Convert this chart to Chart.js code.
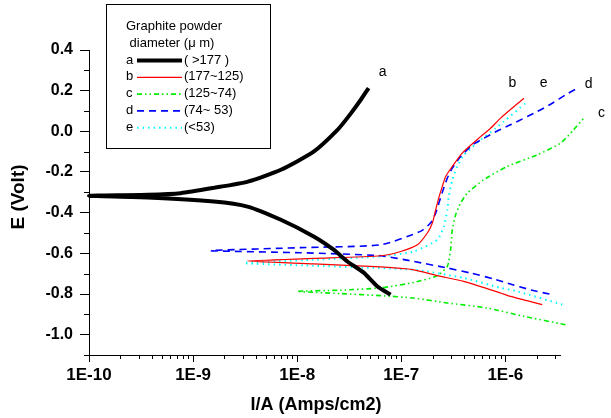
<!DOCTYPE html>
<html>
<head>
<meta charset="utf-8">
<script src="https://cdn.jsdelivr.net/npm/chart.js@4.4.1/dist/chart.umd.min.js"></script>
<style>
html, body { margin: 0; padding: 0; background: #fff; }
#wrap { width: 611px; height: 418px; position: relative; }
</style>
</head>
<body>
<div id="wrap"><canvas id="c"></canvas></div>
<script>
// Tafel curves, current density (A/cm2) vs potential (V)
// each curve: cathodic end -> corrosion potential -> anodic end
const aCurrent = [7.9e-8, 5.9e-8, 4.36e-8, 3.04e-8, 2.24e-8, 1.44e-8, 6.97e-9, 3.33e-9, 1.58e-9, 3.66e-10, 1e-10,
    3.66e-10, 7.6e-10, 1.58e-9, 3.36e-9, 6.97e-9, 1.44e-8, 2.44e-8, 3.2e-8, 4.07e-8, 4.86e-8]
const aPotential = [-0.803, -0.763, -0.695, -0.640, -0.582, -0.517, -0.435, -0.370, -0.345, -0.325, -0.317,
    -0.312, -0.304, -0.278, -0.247, -0.189, -0.100, 0.007, 0.081, 0.154, 0.213]

const bCurrent = [2.26e-6, 1.12e-6, 9.0e-7, 3.97e-7, 2.22e-7, 1.32e-7, 6.34e-8, 1.44e-8, 3.33e-9,
    1.44e-8, 6.34e-8, 9.86e-8, 1.43e-7, 1.78e-7, 1.99e-7, 2.14e-7, 2.30e-7, 2.48e-7, 2.67e-7, 3.09e-7,
    3.85e-7, 5.78e-7, 7.21e-7, 9.0e-7, 1.51e-6]
const bPotential = [-0.852, -0.812, -0.795, -0.738, -0.710, -0.681, -0.667, -0.652, -0.638,
    -0.625, -0.612, -0.591, -0.558, -0.500, -0.451, -0.386, -0.325, -0.271, -0.222, -0.173,
    -0.107, -0.026, 0.015, 0.065, 0.163]

const cCurrent = [3.78e-6, 1.51e-6, 6.7e-7, 2.77e-7, 1.32e-7, 6.34e-8, 2.62e-8, 1.0e-8,
    2.62e-8, 6.34e-8, 1.32e-7, 2.22e-7, 2.77e-7, 2.98e-7, 3.09e-7, 3.33e-7, 3.72e-7, 4.31e-7,
    6.18e-7, 1.04e-6, 2.02e-6, 3.39e-6, 4.52e-6, 5.66e-6]
const cPotential = [-0.951, -0.910, -0.869, -0.844, -0.820, -0.808, -0.798, -0.787,
    -0.781, -0.770, -0.743, -0.710, -0.664, -0.582, -0.484, -0.410, -0.353, -0.304,
    -0.239, -0.173, -0.116, -0.058, 0.007, 0.065]

const dCurrent = [2.65e-6, 1.81e-6, 1.04e-6, 7.76e-7, 4.63e-7, 2.77e-7, 1.32e-7, 6.34e-8, 1.08e-8, 1.48e-9,
    1.08e-8, 6.34e-8, 1.53e-7, 1.91e-7, 2.14e-7, 2.30e-7, 2.48e-7, 2.77e-7, 3.09e-7, 3.72e-7,
    4.81e-7, 6.22e-7, 8.36e-7, 1.12e-6, 2.02e-6, 2.82e-6, 3.78e-6, 4.72e-6]
const dPotential = [-0.800, -0.782, -0.746, -0.726, -0.697, -0.672, -0.640, -0.612, -0.597, -0.587,
    -0.572, -0.558, -0.492, -0.451, -0.402, -0.353, -0.300, -0.230, -0.181, -0.124,
    -0.067, -0.034, 0.002, 0.032, 0.097, 0.138, 0.179, 0.207]

const eCurrent = [3.52e-6, 1.30e-6, 9.0e-7, 3.97e-7, 1.32e-7, 1.44e-8, 3.09e-9,
    1.44e-8, 6.34e-8, 1.32e-7, 2.22e-7, 2.57e-7, 2.77e-7, 2.87e-7, 3.09e-7, 3.45e-7,
    4.0e-7, 5.78e-7, 8.05e-7, 9.68e-7, 1.56e-6]
const ePotential = [-0.852, -0.787, -0.770, -0.721, -0.681, -0.661, -0.648,
    -0.631, -0.615, -0.591, -0.533, -0.468, -0.386, -0.316, -0.239, -0.173,
    -0.116, -0.042, 0.015, 0.048, 0.138]

const xMajorTicks = [1e-10, 1e-9, 1e-8, 1e-7, 1e-6]
const xMinorTicks = [2e-10, 3e-10, 4e-10, 5e-10, 6e-10, 7e-10, 8e-10, 9e-10,
    2e-9, 3e-9, 4e-9, 5e-9, 6e-9, 7e-9, 8e-9, 9e-9,
    2e-8, 3e-8, 4e-8, 5e-8, 6e-8, 7e-8, 8e-8, 9e-8,
    2e-7, 3e-7, 4e-7, 5e-7, 6e-7, 7e-7, 8e-7, 9e-7,
    2e-6, 3e-6]
const yMajorTicks = [-1.0, -0.8, -0.6, -0.4, -0.2, 0.0, 0.2, 0.4]
const yMinorTicks = [-1.1, -0.9, -0.7, -0.5, -0.3, -0.1, 0.1, 0.3]

const curveNames = ['a', 'b', 'c', 'd', 'e']
const curveNameX = [6.64e-8, 1.17e-6, 8.4e-6, 6.3e-6, 2.33e-6]
const curveNameY = [0.292, 0.238, 0.091, 0.233, 0.238]

const legendTitle = ['Graphite powder', ' diameter (\u03bc m)']
const legendRanges = ['( >177 )', '(177~125)', '(125~74)', '(74~ 53)', '(<53)']

const xTitle = 'I/A (Amps/cm2)'
const yTitle = 'E (Volt)'

const styles = [
    { color: '#000000', width: 4, dash: [] },
    { color: '#ff0000', width: 1.2, dash: [] },
    { color: '#00ee00', width: 1.6, dash: [5, 3, 1.5, 3, 1.5, 3] },
    { color: '#0000ff', width: 1.6, dash: [7, 5] },
    { color: '#00ffff', width: 2, dash: [1.5, 4] }
]

const currents = [aCurrent, bCurrent, cCurrent, dCurrent, eCurrent]
const potentials = [aPotential, bPotential, cPotential, dPotential, ePotential]

const datasets = currents.map((cur, k) => ({
    label: curveNames[k],
    data: cur.map((x, i) => ({ x, y: potentials[k][i] })),
    showLine: true,
    borderColor: styles[k].color,
    borderWidth: styles[k].width,
    borderDash: styles[k].dash,
    pointRadius: 0,
    tension: 0.2,
    clip: false
}))

const FONT = "'Liberation Sans', Arial, sans-serif"

const extrasPlugin = {
    id: 'extras',
    afterDraw(chart) {
        const ctx = chart.ctx
        const xs = chart.scales.x
        const ys = chart.scales.y
        ctx.save()
        // minor ticks
        ctx.strokeStyle = '#000'
        ctx.lineWidth = 1
        ctx.beginPath()
        xMinorTicks.forEach(v => {
            const px = Math.round(xs.getPixelForValue(v)) + 0.5
            ctx.moveTo(px, ys.bottom)
            ctx.lineTo(px, ys.bottom + 4)
        })
        yMinorTicks.forEach(v => {
            const py = Math.round(ys.getPixelForValue(v)) + 0.5
            ctx.moveTo(xs.left - 5, py)
            ctx.lineTo(xs.left, py)
        })
        ctx.stroke()

        // axis titles
        ctx.fillStyle = '#000'
        ctx.textAlign = 'center'
        ctx.textBaseline = 'middle'
        ctx.font = 'bold 18px ' + FONT
        ctx.fillText(xTitle, 316, 405)
        ctx.save()
        ctx.translate(19, 197)
        ctx.rotate(-Math.PI / 2)
        ctx.font = 'bold 19px ' + FONT
        ctx.fillText(yTitle, 0, 0)
        ctx.restore()

        // curve names
        ctx.font = '14px ' + FONT
        curveNames.forEach((n, i) => {
            ctx.fillText(n, xs.getPixelForValue(curveNameX[i]), ys.getPixelForValue(curveNameY[i]))
        })

        // legend box
        ctx.fillStyle = '#fff'
        ctx.fillRect(106.5, 4.5, 164, 144)
        ctx.strokeStyle = '#000'
        ctx.lineWidth = 1
        ctx.strokeRect(106.5, 4.5, 164, 144)
        ctx.fillStyle = '#000'
        ctx.font = '13px ' + FONT
        ctx.textAlign = 'left'
        ctx.fillText(legendTitle[0], 126, 26)
        ctx.fillText(legendTitle[1], 126, 43)
        curveNames.forEach((n, i) => {
            const y = 60 + i * 16.8
            ctx.fillStyle = '#000'
            ctx.fillText(n, 126, y)
            ctx.fillText(legendRanges[i], 184, y)
            ctx.beginPath()
            ctx.strokeStyle = styles[i].color
            ctx.lineWidth = styles[i].width
            ctx.setLineDash(styles[i].dash)
            ctx.moveTo(137, y + 0.5)
            ctx.lineTo(182, y + 0.5)
            ctx.stroke()
            ctx.setLineDash([])
        })
        ctx.restore()
    }
}

new Chart(document.getElementById('c'), {
    type: 'scatter',
    data: { datasets },
    options: {
        responsive: true,
        maintainAspectRatio: false,
        animation: false,
        layout: { padding: { left: 0, right: 51, top: 50, bottom: 0 } },
        plugins: { legend: { display: false }, tooltip: { enabled: false } },
        scales: {
            x: {
                type: 'logarithmic',
                min: 1e-10,
                max: 3.35e-6,
                afterBuildTicks: s => { s.ticks = xMajorTicks.map(v => ({ value: v })) },
                afterFit: s => { s.height = 63 },
                grid: { drawOnChartArea: false, color: '#000', tickLength: 7 },
                border: { display: true, color: '#000', width: 1 },
                ticks: {
                    autoSkip: false,
                    maxRotation: 0,
                    padding: 3,
                    color: '#000',
                    font: { family: FONT, size: 17, weight: 'bold' },
                    callback: v => '1E' + Math.round(Math.log10(v))
                }
            },
            y: {
                type: 'linear',
                min: -1.1,
                max: 0.4,
                afterBuildTicks: s => { s.ticks = yMajorTicks.map(v => ({ value: v })) },
                afterFit: s => { s.width = 89 },
                grid: { drawOnChartArea: false, color: '#000', tickLength: 9 },
                border: { display: true, color: '#000', width: 1 },
                ticks: {
                    padding: 7,
                    color: '#000',
                    font: { family: FONT, size: 16, weight: 'bold' },
                    callback: v => v.toFixed(1)
                }
            }
        }
    },
    plugins: [extrasPlugin]
})
</script>
</body>
</html>
